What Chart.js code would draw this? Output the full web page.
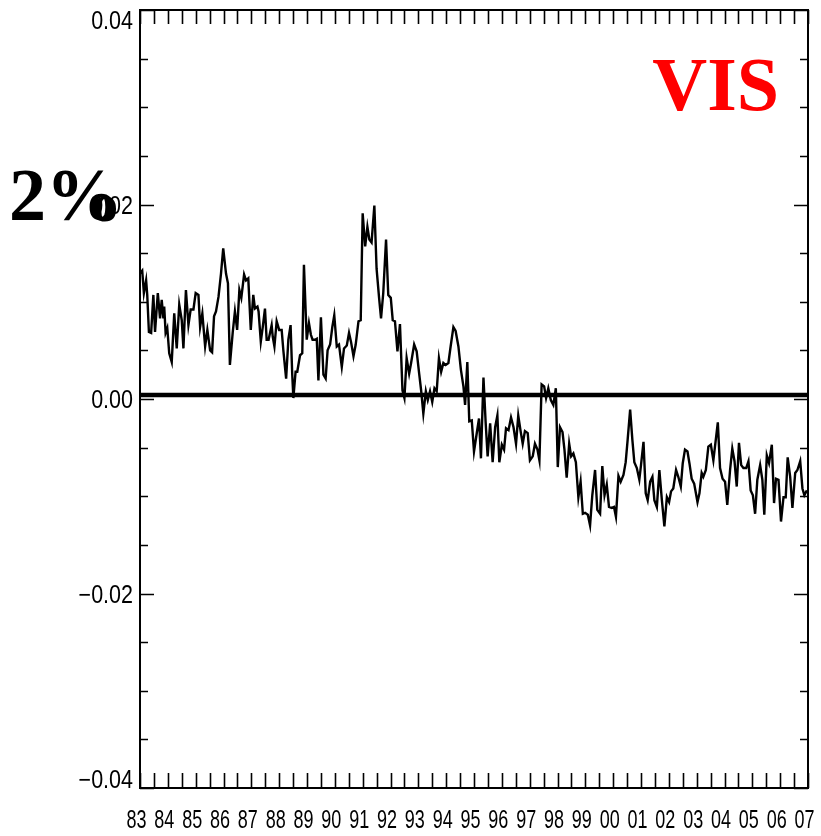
<!DOCTYPE html>
<html>
<head>
<meta charset="utf-8">
<title>VIS</title>
<script src="https://cdn.jsdelivr.net/npm/chart.js@4.4.1/dist/chart.umd.min.js"></script>
<style>
  html, body { margin: 0; padding: 0; background: #fff; }
  canvas { display: block; }
</style>
</head>
<body>
<canvas id="visChart" width="821" height="836"></canvas>
<script>
// --- Data (decimal year, value) ---
const years = [
  1983.00, 1983.08, 1983.14, 1983.22, 1983.26, 1983.32, 1983.40, 1983.48, 1983.54, 1983.64,
  1983.72, 1983.78, 1983.84, 1983.87, 1983.92, 1983.98, 1984.05, 1984.14, 1984.23, 1984.32,
  1984.41, 1984.50, 1984.56, 1984.65, 1984.74, 1984.82, 1984.92, 1985.00, 1985.10, 1985.16,
  1985.24, 1985.34, 1985.42, 1985.52, 1985.59, 1985.66, 1985.73, 1985.82, 1985.91, 1985.99,
  1986.09, 1986.16, 1986.23, 1986.33, 1986.41, 1986.49, 1986.57, 1986.64, 1986.74, 1986.81,
  1986.89, 1986.98, 1987.07, 1987.13, 1987.22, 1987.26, 1987.34, 1987.41, 1987.49, 1987.55,
  1987.62, 1987.73, 1987.77, 1987.83, 1987.91, 1988.00, 1988.09, 1988.15, 1988.25, 1988.33,
  1988.41, 1988.47, 1988.51, 1988.59, 1988.65, 1988.75, 1988.83, 1988.89, 1988.99, 1989.07,
  1989.14, 1989.20, 1989.29, 1989.35, 1989.41, 1989.50, 1989.59, 1989.67, 1989.74, 1989.83,
  1989.91, 1989.98, 1990.07, 1990.15, 1990.25, 1990.33, 1990.43, 1990.51, 1990.58, 1990.67,
  1990.75, 1990.85, 1990.93, 1991.00, 1991.09, 1991.17, 1991.24, 1991.32, 1991.42, 1991.50,
  1991.59, 1991.66, 1991.74, 1991.84, 1991.92, 1992.01, 1992.08, 1992.16, 1992.25, 1992.34,
  1992.43, 1992.50, 1992.58, 1992.67, 1992.74, 1992.85, 1992.94, 1993.03, 1993.10, 1993.18,
  1993.27, 1993.34, 1993.42, 1993.50, 1993.58, 1993.66, 1993.74, 1993.82, 1993.90, 1993.98,
  1994.08, 1994.16, 1994.26, 1994.34, 1994.44, 1994.53, 1994.62, 1994.68,
  1994.76, 1994.83, 1994.92, 1995.00, 1995.10, 1995.18, 1995.25, 1995.34, 1995.42, 1995.49,
  1995.58, 1995.67, 1995.76, 1995.84, 1995.91, 1996.00, 1996.08, 1996.15, 1996.24, 1996.33,
  1996.42, 1996.51, 1996.59, 1996.68, 1996.75, 1996.83, 1996.93, 1997.01, 1997.11, 1997.19,
  1997.28, 1997.35, 1997.43, 1997.52, 1997.59, 1997.67, 1997.76, 1997.85, 1997.94, 1998.01,
  1998.09, 1998.18, 1998.25, 1998.33, 1998.42, 1998.49, 1998.57, 1998.66, 1998.75, 1998.83,
  1998.91, 1998.99, 1999.09, 1999.17, 1999.25, 1999.35, 1999.43, 1999.53, 1999.61, 1999.69,
  1999.77, 1999.85, 1999.95, 2000.03, 2000.10, 2000.19, 2000.27, 2000.37, 2000.45, 2000.52,
  2000.61, 2000.69, 2000.76, 2000.85, 2000.94,
  2001.00, 2001.09, 2001.17, 2001.24, 2001.33, 2001.41, 2001.48, 2001.57, 2001.66, 2001.75,
  2001.84, 2001.93, 2002.01, 2002.08, 2002.16, 2002.26, 2002.34, 2002.43, 2002.50, 2002.58,
  2002.67, 2002.74, 2002.82, 2002.91, 2003.03, 2003.10, 2003.18, 2003.24, 2003.33, 2003.42,
  2003.51, 2003.60, 2003.76, 2003.84, 2003.93, 2004.02, 2004.10, 2004.20, 2004.28, 2004.36,
  2004.44, 2004.52, 2004.60, 2004.68, 2004.78, 2004.86, 2004.94, 2005.02, 2005.10, 2005.18,
  2005.28, 2005.36, 2005.43, 2005.52, 2005.60, 2005.70, 2005.78, 2005.85, 2005.94, 2006.03,
  2006.12, 2006.20, 2006.27, 2006.36, 2006.44, 2006.54, 2006.62, 2006.72, 2006.80, 2006.87,
  2006.96
];

const values = [
  0.0129, 0.0132, 0.0109, 0.0122, 0.0107, 0.0069, 0.0068, 0.0107, 0.0069, 0.0109,
  0.0083, 0.0102, 0.0083, 0.0095, 0.0068, 0.0073, 0.0047, 0.0038, 0.0088, 0.0052,
  0.0097, 0.0081, 0.0052, 0.0112, 0.0076, 0.0092, 0.0092, 0.0109, 0.0107, 0.0074,
  0.0088, 0.0054, 0.0071, 0.0050, 0.0048, 0.0085, 0.0090, 0.0105, 0.0129, 0.0155,
  0.0129, 0.0119, 0.0035, 0.0068, 0.0090, 0.0071, 0.0112, 0.0104, 0.0128, 0.0122,
  0.0124, 0.0071, 0.0107, 0.0093, 0.0095, 0.0090, 0.0059, 0.0074, 0.0093, 0.0061,
  0.0061, 0.0076, 0.0064, 0.0054, 0.0080, 0.0071, 0.0071, 0.0050, 0.0021, 0.0061,
  0.0076, 0.0025, 0.0001, 0.0028, 0.0028, 0.0045, 0.0047, 0.0138, 0.0061, 0.0078,
  0.0066, 0.0061, 0.0061, 0.0062, 0.0019, 0.0084, 0.0025, 0.0021, 0.0050, 0.0056,
  0.0074, 0.0086, 0.0054, 0.0056, 0.0033, 0.0052, 0.0055, 0.0068, 0.0059, 0.0044,
  0.0056, 0.0080, 0.0081, 0.0191, 0.0157, 0.0177, 0.0164, 0.0161, 0.0199, 0.0134,
  0.0104, 0.0083, 0.0109, 0.0164, 0.0107, 0.0104, 0.0081, 0.0080, 0.0049, 0.0077,
  0.0009, 0.0001, 0.0042, 0.0026, 0.0037, 0.0056, 0.0049, 0.0026, 0.0009, -0.0015,
  0.0008, -0.0001, 0.0008, -0.0003, 0.0011, 0.0008, 0.0042, 0.0028, 0.0037, 0.0035,
  0.0037, 0.0054, 0.0074, 0.0070, 0.0054, 0.0030, 0.0013, -0.0006,
  0.0038, -0.0023, -0.0022, -0.0054, -0.0035, -0.0020, -0.0061, 0.0022, -0.0025, -0.0059,
  -0.0025, -0.0065, -0.0029, -0.0017, -0.0065, -0.0047, -0.0052, -0.0030, -0.0032, -0.0019,
  -0.0029, -0.0046, -0.0017, -0.0034, -0.0046, -0.0033, -0.0035, -0.0063, -0.0059, -0.0046,
  -0.0052, -0.0063, 0.0015, 0.0013, 0.0001, 0.0011, -0.0001, -0.0006, 0.0011, -0.0070,
  -0.0029, -0.0034, -0.0052, -0.0081, -0.0046, -0.0059, -0.0056, -0.0065, -0.0101, -0.0085,
  -0.0118, -0.0117, -0.0119, -0.0130, -0.0099, -0.0073, -0.0114, -0.0118, -0.0069, -0.0099,
  -0.0088, -0.0111, -0.0112, -0.0111, -0.0121, -0.0079, -0.0085, -0.0078, -0.0065, -0.0042,
  -0.0011, -0.0042, -0.0065, -0.0071, -0.0083,
  -0.0068, -0.0044, -0.0097, -0.0104, -0.0085, -0.0080, -0.0104, -0.0111, -0.0073, -0.0104,
  -0.0131, -0.0101, -0.0106, -0.0095, -0.0092, -0.0073, -0.0080, -0.0090, -0.0066, -0.0052,
  -0.0054, -0.0066, -0.0082, -0.0087, -0.0106, -0.0097, -0.0076, -0.0080, -0.0073, -0.0049,
  -0.0047, -0.0063, -0.0024, -0.0071, -0.0082, -0.0085, -0.0109, -0.0073, -0.0051, -0.0064,
  -0.0090, -0.0045, -0.0068, -0.0071, -0.0071, -0.0064, -0.0094, -0.0099, -0.0118, -0.0083,
  -0.0068, -0.0083, -0.0119, -0.0058, -0.0066, -0.0047, -0.0107, -0.0082, -0.0083, -0.0126,
  -0.0101, -0.0101, -0.0060, -0.0080, -0.0112, -0.0076, -0.0073, -0.0064, -0.0092, -0.0099,
  -0.0094
];

// reference (zero) line as drawn in the picture
const refLevel = 0.0004;

// axes
const firstYear = 1983;
const lastYear = 2007;
const xTickStep = 0.5;
const yearLabels = ['83', '84', '85', '86', '87', '88', '89', '90', '91', '92', '93', '94', '95',
                    '96', '97', '98', '99', '00', '01', '02', '03', '04', '05', '06', '07'];
const yMin = -0.04;
const yMax = 0.04;
const yMinorStep = 0.005;
const yMajorTicks = [-0.04, -0.02, 0, 0.02, 0.04];
const yTickLabels = ['\u22120.04', '\u22120.02', '0.00', '0.02', '0.04'];

const points = years.map((yr, i) => ({ x: yr, y: values[i] }));

// --- Frame with inward ticks on all four sides, plus labels ---
const framePlugin = {
    id: 'frame',
    afterDatasetsDraw(chart) {
        const { ctx, chartArea: a, scales: { x, y } } = chart;
        ctx.save();
        ctx.strokeStyle = '#000';
        ctx.fillStyle = '#000';

        ctx.lineWidth = 2;
        ctx.strokeRect(a.left, a.top, a.right - a.left, a.bottom - a.top);

        ctx.lineWidth = 1.6;
        ctx.beginPath();
        const nMinor = Math.round((yMax - yMin) / yMinorStep);
        for (let k = 0; k <= nMinor; k++) {
            const py = Math.round(y.getPixelForValue(yMin + k * yMinorStep)) + 0.5;
            const len = (k % 4 === 0) ? 14 : 8;
            ctx.moveTo(a.left, py); ctx.lineTo(a.left + len, py);
            ctx.moveTo(a.right, py); ctx.lineTo(a.right - len, py);
        }
        for (let t = firstYear; t <= lastYear + 1e-6; t += xTickStep) {
            const px = Math.round(x.getPixelForValue(t)) + 0.5;
            ctx.moveTo(px, a.bottom); ctx.lineTo(px, a.bottom - 15);
            ctx.moveTo(px, a.top); ctx.lineTo(px, a.top + 14);
        }
        ctx.stroke();

        // y tick labels
        ctx.font = '25px "Liberation Sans", Arial, sans-serif';
        ctx.textAlign = 'right';
        ctx.textBaseline = 'alphabetic';
        yMajorTicks.forEach((v, i) => {
            let py = y.getPixelForValue(v);
            if (v === yMax) py += 10;
            else if (v === yMin) py -= 9;
            ctx.save();
            ctx.translate(a.left - 7, py + 9);
            ctx.scale(0.86, 1);
            ctx.fillText(yTickLabels[i], 0, 0);
            ctx.restore();
        });

        // x tick labels
        ctx.textAlign = 'center';
        yearLabels.forEach((lab, i) => {
            const px = x.getPixelForValue(firstYear + i) - 3.5;
            ctx.save();
            ctx.translate(px, a.bottom + 40);
            ctx.scale(0.72, 1);
            ctx.fillText(lab, 0, 0);
            ctx.restore();
        });

        // annotations: "2%o" with the small o tucked under the %
        ctx.textAlign = 'left';
        ctx.font = 'bold 74px "Liberation Serif", "Times New Roman", serif';
        ctx.fillText('2%', 9, 220);
        ctx.font = 'bold 52px "Liberation Serif", "Times New Roman", serif';
        ctx.fillText('o', 92, 221);

        ctx.textAlign = 'right';
        ctx.fillStyle = '#ff0000';
        ctx.font = 'bold 76px "Liberation Serif", "Times New Roman", serif';
        ctx.fillText('VIS', 779, 110);

        ctx.restore();
    }
};

const chartCtx = document.getElementById('visChart').getContext('2d');
new Chart(chartCtx, {
    type: 'line',
    data: {
        datasets: [{
            label: 'VIS',
            data: points,
            borderColor: '#000',
            borderWidth: 2.4,
            pointRadius: 0,
            tension: 0
        }, {
            label: 'zero',
            data: [{ x: firstYear, y: refLevel }, { x: lastYear, y: refLevel }],
            borderColor: '#000',
            borderWidth: 4.5,
            pointRadius: 0
        }]
    },
    options: {
        responsive: false,
        animation: false,
        devicePixelRatio: 1,
        layout: { padding: { left: 140, right: 13, top: 10, bottom: 48 } },
        plugins: { legend: { display: false }, tooltip: { enabled: false } },
        scales: {
            x: { type: 'linear', min: firstYear, max: lastYear, display: false },
            y: { min: yMin, max: yMax, display: false }
        }
    },
    plugins: [framePlugin]
});
</script>
</body>
</html>
